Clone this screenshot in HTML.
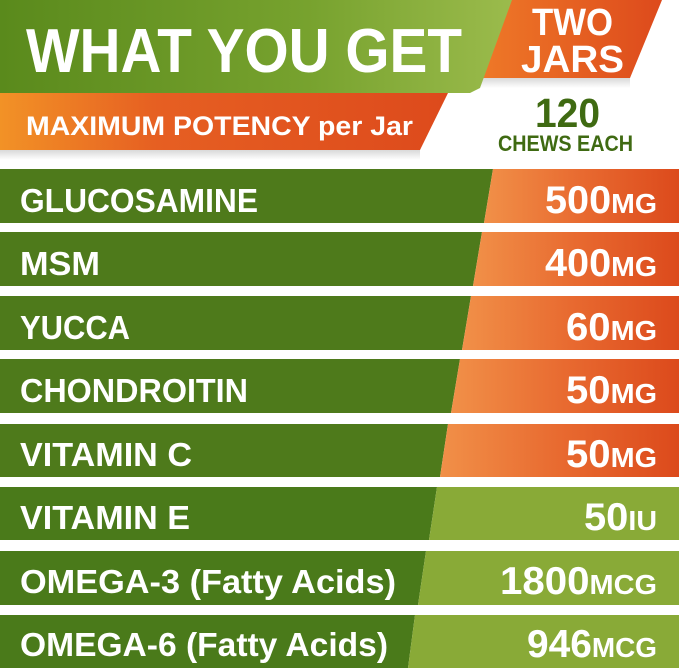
<!DOCTYPE html>
<html><head><meta charset="utf-8"><style>
html,body{margin:0;padding:0;background:#fff;}
svg{display:block;}
text{font-family:"Liberation Sans",sans-serif;font-weight:bold;fill:#fff;}
</style></head><body>
<svg width="679" height="671" viewBox="0 0 679 671" xmlns="http://www.w3.org/2000/svg">
<defs>
<linearGradient id="gb" x1="0" x2="1" y1="0" y2="0"><stop offset="0" stop-color="#5a8a1c"/><stop offset="0.6" stop-color="#77a22e"/><stop offset="1" stop-color="#9bbb4c"/></linearGradient>
<linearGradient id="ob" x1="0" x2="1" y1="0" y2="0"><stop offset="0" stop-color="#f29226"/><stop offset="0.35" stop-color="#e65f22"/><stop offset="1" stop-color="#dd4a1c"/></linearGradient>
<linearGradient id="tj" x1="0" x2="1" y1="0" y2="0"><stop offset="0" stop-color="#ef7a28"/><stop offset="1" stop-color="#dd4a1c"/></linearGradient>
<linearGradient id="rv" x1="0" x2="1" y1="0" y2="0"><stop offset="0" stop-color="#f19048"/><stop offset="0.5" stop-color="#e86a30"/><stop offset="1" stop-color="#dc4a1c"/></linearGradient>
<linearGradient id="sh" x1="0" x2="0" y1="0" y2="1"><stop offset="0" stop-color="#000" stop-opacity="0.15"/><stop offset="1" stop-color="#000" stop-opacity="0"/></linearGradient>
</defs>
<polygon points="505,0 662,0 630,78 475,78" fill="url(#tj)"/>
<rect x="470" y="78" width="160" height="10" fill="url(#sh)"/>
<polygon points="0,93 448,93 420,150 0,150" fill="url(#ob)"/>
<rect x="0" y="150" width="420" height="10" fill="url(#sh)"/>
<polygon points="0,0 512,0 480,88 470,93 0,93" fill="url(#gb)"/>
<text x="26" y="72" font-size="62" textLength="436" lengthAdjust="spacingAndGlyphs">WHAT YOU GET</text>
<text x="532" y="35" font-size="38" textLength="81" lengthAdjust="spacingAndGlyphs">TWO</text>
<text x="521" y="72" font-size="38" textLength="103" lengthAdjust="spacingAndGlyphs">JARS</text>
<text x="26" y="135" font-size="27" textLength="387" lengthAdjust="spacingAndGlyphs">MAXIMUM POTENCY per Jar</text>
<text x="535" y="127" font-size="41" style="fill:#3f6a12" textLength="65" lengthAdjust="spacingAndGlyphs">120</text>
<text x="498" y="151" font-size="22" style="fill:#3f6a12" textLength="135" lengthAdjust="spacingAndGlyphs">CHEWS EACH</text>
<polygon points="0,169 493,169 484,223 0,223" fill="#4e7a1b"/><polygon points="493,169 679,169 679,223 484,223" fill="url(#rv)"/>
<polygon points="0,232 482,232 473,286 0,286" fill="#4e7a1b"/><polygon points="482,232 679,232 679,286 473,286" fill="url(#rv)"/>
<polygon points="0,296 471,296 462,350 0,350" fill="#4e7a1b"/><polygon points="471,296 679,296 679,350 462,350" fill="url(#rv)"/>
<polygon points="0,359 460,359 451,413 0,413" fill="#4e7a1b"/><polygon points="460,359 679,359 679,413 451,413" fill="url(#rv)"/>
<polygon points="0,424 448,424 440,477 0,477" fill="#4e7a1b"/><polygon points="448,424 679,424 679,477 440,477" fill="url(#rv)"/>
<polygon points="0,487 437,487 429,540 0,540" fill="#4a7a1a"/><polygon points="437,487 679,487 679,540 429,540" fill="#89aa37"/>
<polygon points="0,551 426,551 418,605 0,605" fill="#4a7a1a"/><polygon points="426,551 679,551 679,605 418,605" fill="#89aa37"/>
<polygon points="0,615 415,615 408,668 0,668" fill="#4a7a1a"/><polygon points="415,615 679,615 679,668 408,668" fill="#89aa37"/>
<g font-size="33">
<text x="20" y="212" textLength="238" lengthAdjust="spacingAndGlyphs">GLUCOSAMINE</text>
<text x="20" y="275" textLength="80" lengthAdjust="spacingAndGlyphs">MSM</text>
<text x="20" y="339" textLength="110" lengthAdjust="spacingAndGlyphs">YUCCA</text>
<text x="20" y="402" textLength="228" lengthAdjust="spacingAndGlyphs">CHONDROITIN</text>
<text x="20" y="466" textLength="172" lengthAdjust="spacingAndGlyphs">VITAMIN C</text>
<text x="20" y="529" textLength="170" lengthAdjust="spacingAndGlyphs">VITAMIN E</text>
<text x="20" y="593" textLength="376" lengthAdjust="spacingAndGlyphs">OMEGA-3  (Fatty Acids)</text>
<text x="20" y="656" textLength="368" lengthAdjust="spacingAndGlyphs">OMEGA-6 (Fatty Acids)</text>
</g>
<g text-anchor="end" font-size="39">
<text x="657" y="213" textLength="112" lengthAdjust="spacingAndGlyphs">500<tspan font-size="28">MG</tspan></text>
<text x="657" y="276" textLength="112" lengthAdjust="spacingAndGlyphs">400<tspan font-size="28">MG</tspan></text>
<text x="657" y="340" textLength="91" lengthAdjust="spacingAndGlyphs">60<tspan font-size="28">MG</tspan></text>
<text x="657" y="403" textLength="91" lengthAdjust="spacingAndGlyphs">50<tspan font-size="28">MG</tspan></text>
<text x="657" y="467" textLength="91" lengthAdjust="spacingAndGlyphs">50<tspan font-size="28">MG</tspan></text>
<text x="657" y="530" textLength="73" lengthAdjust="spacingAndGlyphs">50<tspan font-size="28">IU</tspan></text>
<text x="657" y="594" textLength="157" lengthAdjust="spacingAndGlyphs">1800<tspan font-size="28">MCG</tspan></text>
<text x="657" y="657" textLength="130" lengthAdjust="spacingAndGlyphs">946<tspan font-size="28">MCG</tspan></text>
</g>
</svg>
</body></html>
